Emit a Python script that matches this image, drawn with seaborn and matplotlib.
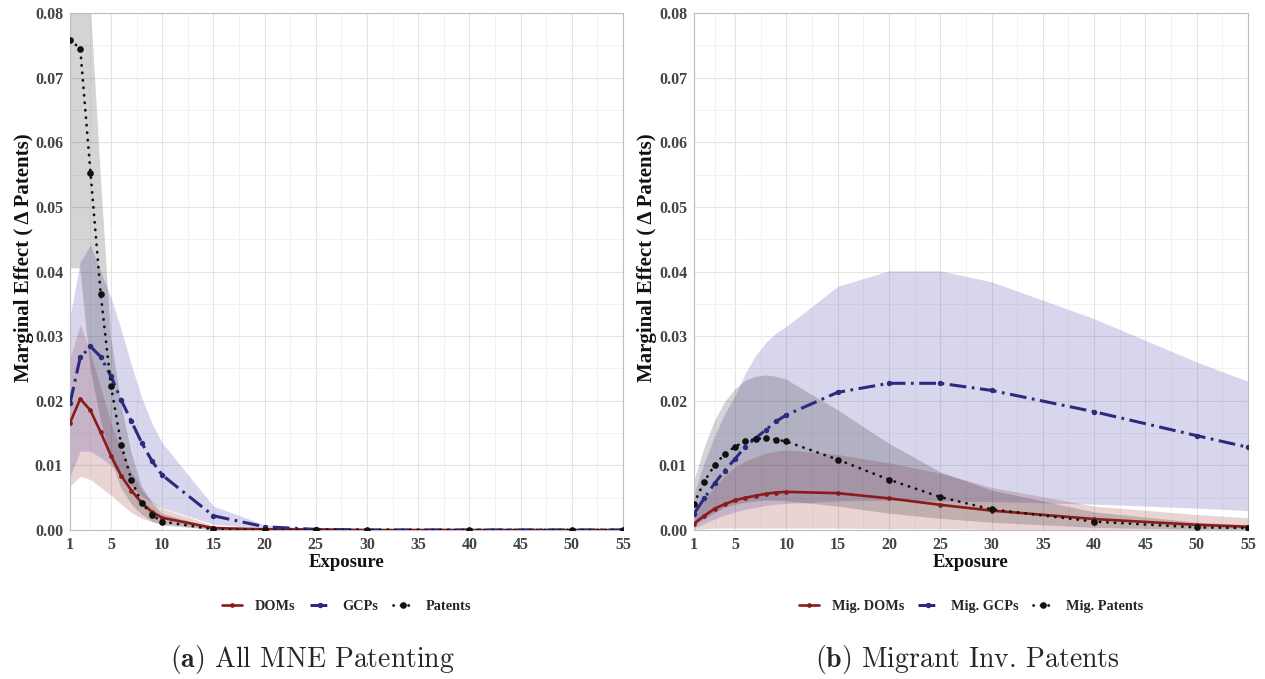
import matplotlib
matplotlib.use("Agg")
import numpy as np
import pandas as pd
import matplotlib.pyplot as plt
import seaborn as sns

sns.set_theme(style="white")
plt.rcParams["font.family"] = ["Liberation Serif", "DejaVu Serif"]
plt.rcParams["font.weight"] = "bold"
plt.rcParams["mathtext.fontset"] = "cm"

# ---- data -------------------------------------------------------------
exposure = [1, 2, 3, 4, 5, 6, 7, 8, 9, 10, 15, 20, 25, 30, 40, 50, 55]
x_ticks = [1, 5, 10, 15, 20, 25, 30, 35, 40, 45, 50, 55]
y_ticks = [0.00, 0.01, 0.02, 0.03, 0.04, 0.05, 0.06, 0.07, 0.08]

# (a) All MNE patenting
doms = [0.0166, 0.0203, 0.0185, 0.0151, 0.0115, 0.0084, 0.0061, 0.0042, 0.0028,
        0.0019, 0.0003, 0.0001, 0.0001, 0, 0, 0, 0]
doms_lo = [0.0068, 0.0083, 0.0078, 0.0066, 0.0054, 0.0040, 0.0027, 0.0018, 0.0013,
           0.0010, 0.0001, 0, 0, 0, 0, 0, 0]
doms_hi = [0.0266, 0.0318, 0.0275, 0.0220, 0.0165, 0.0125, 0.0090, 0.0062, 0.0045,
           0.0033, 0.0007, 0.0002, 0.0001, 0, 0, 0, 0]

gcps = [0.0196, 0.0267, 0.0284, 0.0268, 0.0238, 0.0201, 0.0168, 0.0135, 0.0107,
        0.0085, 0.0022, 0.0005, 0.0001, 0, 0, 0, 0]
gcps_lo = [0.0083, 0.0122, 0.0122, 0.0112, 0.0100, 0.0085, 0.0068, 0.0053, 0.0042,
           0.0034, 0.0009, 0.0002, 0, 0, 0, 0, 0]
gcps_hi = [0.0330, 0.0415, 0.0441, 0.0400, 0.0360, 0.0310, 0.0255, 0.0205, 0.0165,
           0.0135, 0.0037, 0.0008, 0.0002, 0, 0, 0, 0]

patents = [0.0758, 0.0745, 0.0553, 0.0365, 0.0223, 0.0132, 0.0077, 0.0042, 0.0023,
           0.0013, 0.0001, 0, 0, 0, 0, 0, 0]
patents_lo = [0.0405, 0.0405, 0.0250, 0.0170, 0.0110, 0.0065, 0.0040, 0.0024, 0.0013,
              0.0007, 0, 0, 0, 0, 0, 0, 0]
patents_hi = [0.1110, 0.1085, 0.0820, 0.0550, 0.0300, 0.0195, 0.0120, 0.0068, 0.0042,
              0.0025, 0.0003, 0, 0, 0, 0, 0, 0]

# (b) Migrant inventor patents
mig_doms = [0.0010, 0.0022, 0.0033, 0.0040, 0.0046, 0.0050, 0.0053, 0.0056, 0.0058,
            0.0059, 0.0057, 0.0049, 0.0039, 0.0030, 0.0017, 0.0008, 0.0005]
mig_doms_lo = [0.0001, 0.0002, 0.0003, 0.0003, 0.0003, 0.0003, 0.0003, 0.0003, 0.0003,
               0.0003, 0.0003, 0.0002, 0.0002, 0.0001, 0.0001, 0.0001, 0.0001]
mig_doms_hi = [0.0021, 0.0046, 0.0067, 0.0084, 0.0098, 0.0107, 0.0113, 0.0119, 0.0122,
               0.0124, 0.0117, 0.0104, 0.0088, 0.0066, 0.0037, 0.0024, 0.0019]

mig_gcps = [0.0025, 0.0049, 0.0072, 0.0092, 0.0110, 0.0129, 0.0142, 0.0155, 0.0168,
            0.0178, 0.0213, 0.0227, 0.0227, 0.0216, 0.0183, 0.0146, 0.0128]
mig_gcps_lo = [0.0003, 0.0010, 0.0017, 0.0023, 0.0028, 0.0032, 0.0035, 0.0038, 0.0040,
               0.0041, 0.0045, 0.0046, 0.0045, 0.0044, 0.0040, 0.0034, 0.0030]
mig_gcps_hi = [0.0055, 0.0105, 0.0145, 0.0180, 0.0208, 0.0243, 0.0270, 0.0290, 0.0305,
               0.0315, 0.0377, 0.0401, 0.0401, 0.0384, 0.0327, 0.0260, 0.0230]

mig_patents = [0.0041, 0.0075, 0.0100, 0.0118, 0.0129, 0.0137, 0.0141, 0.0142, 0.0140,
               0.0137, 0.0109, 0.0078, 0.0051, 0.0032, 0.0013, 0.0004, 0.0003]
mig_patents_lo = [0.0008, 0.0018, 0.0027, 0.0035, 0.0040, 0.0043, 0.0045, 0.0046, 0.0046,
                  0.0045, 0.0037, 0.0026, 0.0018, 0.0012, 0.0004, 0.0001, 0.0001]
mig_patents_hi = [0.0077, 0.0129, 0.0170, 0.0199, 0.0219, 0.0232, 0.0238, 0.0240, 0.0238,
                  0.0233, 0.0186, 0.0134, 0.0090, 0.0062, 0.0028, 0.0012, 0.0008]

labels_a = ["DOMs", "GCPs", "Patents"]
labels_b = ["Mig. DOMs", "Mig. GCPs", "Mig. Patents"]
captions = [r"$\mathbf{(a)}$ All MNE Patenting", r"$\mathbf{(b)}$ Migrant Inv. Patents"]

# ---- styling ----------------------------------------------------------
RED = "#8B1A1A"
BLUE = "#2C2A7E"
BLACK = "#111111"
line_styles = [
    dict(color=RED, linestyle="-", lw=1.9, marker="o", markersize=3.4),
    dict(color=BLUE, linestyle=(0, (5.5, 1.8, 0.9, 1.8)), lw=2.2, marker="o", markersize=3.9),
    dict(color=BLACK, linestyle=(0, (0.1, 2.6)), lw=2.0, marker="o", markersize=4.8,
         dash_capstyle="round"),
]
band_styles = [(RED, 0.19), ("#3A35A0", 0.20), ("black", 0.17)]


def make_frame(labels, values):
    rows = []
    for name, (mid, lo, hi) in zip(labels, values):
        rows.append(pd.DataFrame({"exposure": exposure, "effect": mid,
                                  "lower": lo, "upper": hi, "series": name}))
    return pd.concat(rows, ignore_index=True)


panel_a = make_frame(labels_a, [(doms, doms_lo, doms_hi),
                                (gcps, gcps_lo, gcps_hi),
                                (patents, patents_lo, patents_hi)])
panel_b = make_frame(labels_b, [(mig_doms, mig_doms_lo, mig_doms_hi),
                                (mig_gcps, mig_gcps_lo, mig_gcps_hi),
                                (mig_patents, mig_patents_lo, mig_patents_hi)])

W, H = 1265, 679
fig = plt.figure(figsize=(W / 100, H / 100), dpi=100)
ax_a = fig.add_axes([70 / W, (H - 530) / H, 553 / W, 517 / H])
ax_b = fig.add_axes([694 / W, (H - 530) / H, 554 / W, 517 / H])

for ax, df, labels, cap, cx in [(ax_a, panel_a, labels_a, captions[0], 312),
                                (ax_b, panel_b, labels_b, captions[1], 967)]:
    ax.set_axisbelow(True)
    # confidence bands
    for name, (col, alpha) in zip(labels, band_styles):
        sub = df[df["series"] == name]
        ax.fill_between(sub["exposure"], sub["lower"], sub["upper"],
                        color=col, alpha=alpha, lw=0, zorder=1)
    # point estimates
    for name, st in zip(labels, line_styles):
        sub = df[df["series"] == name]
        sns.lineplot(data=sub, x="exposure", y="effect", ax=ax, label=name,
                     errorbar=None, markeredgewidth=0, markeredgecolor=st["color"],
                     zorder=3, **st)

    ax.set_xlim(1, 55)
    ax.set_ylim(0, 0.08)
    ax.set_xticks(x_ticks)
    ax.set_yticks(y_ticks)
    ax.set_yticklabels([f"{v:.2f}" for v in y_ticks])
    ax.set_xticks([3, 7.5] + list(np.arange(12.5, 55, 5)), minor=True)
    ax.set_yticks(np.arange(0.005, 0.08, 0.01), minor=True)
    ax.grid(True, which="major", color="#E4E4E4", lw=0.8)
    ax.grid(True, which="minor", color="#F0F0F0", lw=0.6)
    ax.tick_params(which="both", length=0, labelsize=11.5, labelcolor="#444444", pad=5)
    for lab in ax.get_xticklabels() + ax.get_yticklabels():
        lab.set_fontweight("bold")
    for sp in ax.spines.values():
        sp.set_color("#BDBDBD")
        sp.set_linewidth(0.8)

    ax.set_xlabel("Exposure", fontsize=13.5, fontweight="bold", color="#111111")
    ax.xaxis.set_label_coords(0.5, -0.047)
    ax.set_ylabel("Marginal Effect ( \u0394 Patents)", fontsize=15,
                  fontweight="bold", color="#111111")
    ax.yaxis.set_label_coords(-0.066, 0.527)

    ax.legend(loc="center", bbox_to_anchor=(0.5, -0.148), ncol=3, frameon=False,
              fontsize=10.3, handlelength=1.4, handletextpad=0.9, columnspacing=1.0)

    fig.text(cx / W, (H - 660) / H, cap, ha="center", va="center",
             fontsize=20, family="cmr10", fontweight="normal")

fig.savefig("out.png", dpi=100)
